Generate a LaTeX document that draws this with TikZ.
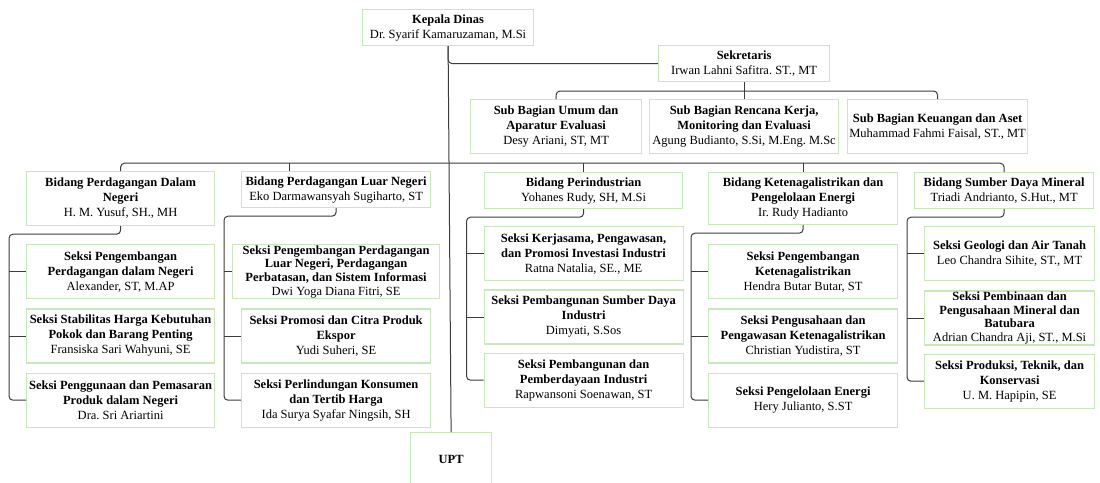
\documentclass[tikz,border=0pt]{standalone}
\usepackage{fontspec}
\setmainfont{Liberation Serif}
\usepackage{tikz}
\usetikzlibrary{positioning, calc}
\definecolor{boxgreen}{RGB}{200,232,188}
\definecolor{linegray}{RGB}{60,60,60}
\frenchspacing

\begin{document}
\begin{tikzpicture}[
				x=1pt, y=-1pt,
				node distance=9pt,
				unit/.style={rectangle, draw=boxgreen, fill=white, line width=1.2pt,
					inner sep=1pt, align=center, anchor=north west,
					font=\fontsize{12.5}{15}\selectfont},
				seksi/.style={unit, anchor=center, minimum height=54pt},
				tight/.style={inner ysep=0pt, font=\fontsize{12.5}{13.6}\selectfont},
				link/.style={draw=linegray, line width=1pt, rounded corners=4pt}
				]
				\useasboundingbox (0,0) rectangle (1100,482);

				% pimpinan
				\node[unit, minimum width=171pt, minimum height=36pt] (kadis) at (362,9) {\textbf{Kepala Dinas}\\Dr. Syarif Kamaruzaman, M.Si};
				\node[unit, minimum width=171pt, minimum height=36pt] (sekre) at (658,45) {\textbf{Sekretaris}\\Irwan Lahni Safitra. ST., MT};
				\node[unit, minimum width=81pt, minimum height=54pt] (upt) at (410,432) {\textbf{UPT}};

				% sub bagian
				\node[unit, minimum width=171pt, minimum height=54pt] (umum) at (470,99) {\textbf{Sub Bagian Umum dan}\\\textbf{Aparatur Evaluasi}\\Desy Ariani, ST, MT};
				\node[unit, minimum width=189pt, minimum height=54pt] (rencana) at (649,99) {\textbf{Sub Bagian Rencana Kerja,}\\\textbf{Monitoring dan Evaluasi}\\Agung Budianto, S.Si, M.Eng. M.Sc};
				\node[unit, minimum width=180pt, minimum height=54pt] (keuangan) at (847,99) {\textbf{Sub Bagian Keuangan dan Aset}\\Muhammad Fahmi Faisal, ST., MT};

				% bidang
				\node[unit, minimum width=188pt, minimum height=54pt] (dalam) at (26,171) {\textbf{Bidang Perdagangan Dalam}\\\textbf{Negeri}\\H. M. Yusuf, SH., MH};
				\node[unit, minimum width=189pt, minimum height=36pt] (luar) at (241,171) {\textbf{Bidang Perdagangan Luar Negeri}\\Eko Darmawansyah Sugiharto, ST};
				\node[unit, minimum width=198pt, minimum height=36pt] (industri) at (484,172) {\textbf{Bidang Perindustrian}\\Yohanes Rudy, SH, M.Si};
				\node[unit, minimum width=189pt, minimum height=52pt] (listrik) at (708,172) {\textbf{Bidang Ketenagalistrikan dan}\\\textbf{Pengelolaan Energi}\\Ir. Rudy Hadianto};
				\node[unit, minimum width=179pt, minimum height=36pt] (mineral) at (914,172) {\textbf{Bidang Sumber Daya Mineral}\\Triadi Andrianto, S.Hut., MT};

				% seksi perdagangan dalam negeri
				\node[seksi, minimum width=188pt, below=18pt of dalam] (dalam1) {\textbf{Seksi Pengembangan}\\\textbf{Perdagangan dalam Negeri}\\Alexander, ST, M.AP};
				\node[seksi, minimum width=188pt, below=of dalam1] (dalam2) {\textbf{Seksi Stabilitas Harga Kebutuhan}\\\textbf{Pokok dan Barang Penting}\\Fransiska Sari Wahyuni, SE};
				\node[seksi, minimum width=188pt, below=of dalam2] (dalam3) {\textbf{Seksi Penggunaan dan Pemasaran}\\\textbf{Produk dalam Negeri}\\Dra. Sri Ariartini};

				% seksi perdagangan luar negeri
				\node[seksi, tight, minimum width=207pt, below=36pt of luar] (luar1) {\textbf{Seksi Pengembangan Perdagangan}\\\textbf{Luar Negeri, Perdagangan}\\\textbf{Perbatasan, dan Sistem Informasi}\\Dwi Yoga Diana Fitri, SE};
				\node[seksi, minimum width=189pt, below=of luar1] (luar2) {\textbf{Seksi Promosi dan Citra Produk}\\\textbf{Ekspor}\\Yudi Suheri, SE};
				\node[seksi, minimum width=189pt, below=of luar2] (luar3) {\textbf{Seksi Perlindungan Konsumen}\\\textbf{dan Tertib Harga}\\Ida Surya Syafar Ningsih, SH};

				% seksi perindustrian
				\node[seksi, minimum width=199pt, below=17pt of industri] (industri1) {\textbf{Seksi Kerjasama, Pengawasan,}\\\textbf{dan Promosi Investasi Industri}\\Ratna Natalia, SE., ME};
				\node[seksi, minimum width=199pt, below=8pt of industri1] (industri2) {\textbf{Seksi Pembangunan Sumber Daya}\\\textbf{Industri}\\Dimyati, S.Sos};
				\node[seksi, minimum width=199pt, below=8pt of industri2] (industri3) {\textbf{Seksi Pembangunan dan}\\\textbf{Pemberdayaan Industri}\\Rapwansoni Soenawan, ST};

				% seksi ketenagalistrikan
				\node[seksi, minimum width=189pt, below=19pt of listrik] (listrik1) {\textbf{Seksi Pengembangan}\\\textbf{Ketenagalistrikan}\\Hendra Butar Butar, ST};
				\node[seksi, minimum width=189pt, below=of listrik1] (listrik2) {\textbf{Seksi Pengusahaan dan}\\\textbf{Pengawasan Ketenagalistrikan}\\Christian Yudistira, ST};
				\node[seksi, minimum width=189pt, below=of listrik2] (listrik3) {\textbf{Seksi Pengelolaan Energi}\\Hery Julianto, S.ST};

				% seksi sumber daya mineral
				\node[seksi, minimum width=170pt, below=17pt of mineral, xshift=5.5pt] (mineral1) {\textbf{Seksi Geologi dan Air Tanah}\\Leo Chandra Sihite, ST., MT};
				\node[seksi, tight, minimum width=170pt, below=of mineral1] (mineral2) {\textbf{Seksi Pembinaan dan}\\\textbf{Pengusahaan Mineral dan}\\\textbf{Batubara}\\Adrian Chandra Aji, ST., M.Si};
				\node[seksi, minimum width=170pt, below=8pt of mineral2] (mineral3) {\textbf{Seksi Produksi, Teknik, dan}\\\textbf{Konservasi}\\U. M. Hapipin, SE};

				% garis komando
				\coordinate (sbline) at ($(rencana.north)+(0,-8)$);
				\coordinate (bdline) at ($(kadis.south)+(0,117)$);
				\draw[link] (kadis.south) -- (upt.north);
				\draw[link] (kadis.south) |- (sekre.west);
				\draw[link] (sekre.south) -- (rencana.north);
				\draw[link] (umum.north) |- (sbline) -| (keuangan.north);
				\draw[link] (dalam.north) |- (bdline) -| (mineral.north);
				\draw[link] ([xshift=-47pt]luar.north) -- ([xshift=-47pt]luar.north |- bdline);
				\draw[link] (industri.north) -- (industri.north |- bdline);
				\draw[link] (listrik.north) -- (listrik.north |- bdline);
				\foreach \b in {dalam, luar, industri, listrik, mineral} {
					\draw[link] (\b.south) -- ++(0,8) -| ([xshift=-17pt]\b3.west) -- (\b3.west);
					\draw[link] (\b1.west) -- ([xshift=-17pt]\b3.west |- \b1.west);
					\draw[link] (\b2.west) -- ([xshift=-17pt]\b3.west |- \b2.west);
				}
			\end{tikzpicture}
\end{document}
